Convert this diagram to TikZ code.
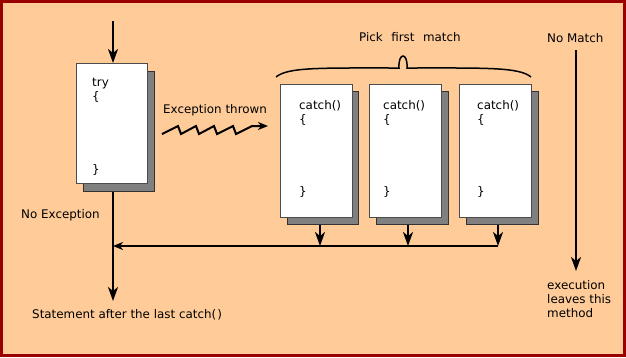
\documentclass[tikz,border=0pt]{standalone}
\usepackage{fontspec}
\setmainfont{DejaVu Sans}
\usetikzlibrary{arrows.meta}
\definecolor{peach}{HTML}{FFCC99}
\definecolor{framered}{HTML}{990000}
\definecolor{shadowgray}{HTML}{808080}
\begin{document}
\begin{tikzpicture}[x=1pt,y=-1pt,
  font=\fontsize{11.9}{14}\selectfont,
  whitebox/.style={draw=black!70, fill=white, line width=0.8pt, inner sep=0pt, anchor=north west},
  shadowbox/.style={draw=black!80, fill=shadowgray, line width=0.8pt, inner sep=0pt, anchor=north west},
  lbl/.style={anchor=base west, inner sep=0pt, text=black},
  arr/.style={line width=2pt, -{Stealth[length=14pt,width=10pt,inset=4pt]}},
  hline/.style={line width=2.8pt, -{Stealth[length=10pt,width=8pt,inset=3pt]}},
  zig/.style={line width=2pt, -{Stealth[length=10pt,width=8pt,inset=3pt]}},
  bracepath/.style={line width=1.5pt}]
% background and frame
\useasboundingbox (0,0) rectangle (626,357);
\fill[framered] (0,0) rectangle (626,357);
\fill[peach] (3,3) rectangle (623,354);

% try block
\node[shadowbox, minimum width=71pt, minimum height=120pt] (tryS) at (83,71) {};
\node[whitebox, minimum width=71pt, minimum height=120pt] (try) at (76,63) {};
\node[lbl] (t1) at (92,86) {try};
\node[lbl] (t2) at (92,100) {\{};
\node[lbl] (t3) at (92,173) {\}};

% catch blocks
\node[shadowbox, minimum width=71pt, minimum height=133pt] (c1S) at (287,91) {};
\node[whitebox, minimum width=72pt, minimum height=133pt] (c1) at (280,84) {};
\node[shadowbox, minimum width=72pt, minimum height=133pt] (c2S) at (376,91) {};
\node[whitebox, minimum width=72pt, minimum height=133pt] (c2) at (369,84) {};
\node[shadowbox, minimum width=72pt, minimum height=133pt] (c3S) at (466,91) {};
\node[whitebox, minimum width=72pt, minimum height=133pt] (c3) at (459,84) {};

\node[lbl] (c1a) at (299,109) {catch()};
\node[lbl] (c1b) at (299,123) {\{};
\node[lbl] (c1c) at (299,195) {\}};
\node[lbl] (c2a) at (383,109) {catch()};
\node[lbl] (c2b) at (383,123) {\{};
\node[lbl] (c2c) at (383,195) {\}};
\node[lbl] (c3a) at (477,109) {catch()};
\node[lbl] (c3b) at (477,123) {\{};
\node[lbl] (c3c) at (477,195) {\}};

% labels
\node[lbl] (exc) at (163,113) {Exception thrown};
\node[lbl] (pick) at (359,41) {Pick\hspace{8.5pt}first\hspace{8.5pt}match};
\node[lbl] (nomatch) at (547,42) {No Match};
\node[lbl] (e1) at (547,289) {execution};
\node[lbl] (e2) at (547,303) {leaves this};
\node[lbl] (e3) at (547,317) {method};
\node[lbl] (noexc) at (21,218) {No Exception};
\node[lbl] (stmt) at (32,318) {Statement after the last catch(\kern1pt)};

% coordinates
\coordinate (tin) at (113,21);
\coordinate (tout) at (113,301);
\coordinate (m) at (113,246);
\coordinate (k1) at (320,246);
\coordinate (k2) at (408,246);
\coordinate (k3) at (498,246);
\coordinate (nmstart) at (576,50);
\coordinate (nmend) at (576,271);
\coordinate (zstart) at (162,134);
\coordinate (zend) at (268,126);

% connectors
\draw[arr] (tin) -- (tin |- try.north);
\draw[arr] (tout |- tryS.south) -- (tout);
\draw[arr] (k1 |- c1S.south) -- (k1);
\draw[arr] (k2 |- c2S.south) -- (k2);
\draw[arr] (k3 |- c3S.south) -- (k3);
\draw[hline] (k3) -- (m);
\draw[arr] (nmstart) -- (nmend);

% zigzag
\draw[zig] (zstart) -- (178,126) -- (181,134) -- (196,126) -- (199,134) -- (214,126)
  -- (217,134) -- (233,126) -- (236,134) -- (252,126) -- (zend);

% brace
\draw[bracepath] (276,77) .. controls (288,67) and (320,68) .. (399,68)
  .. controls (398,52) and (408,52) .. (407,68)
  .. controls (486,68) and (519,67) .. (531,77);
\end{tikzpicture}
\end{document}
